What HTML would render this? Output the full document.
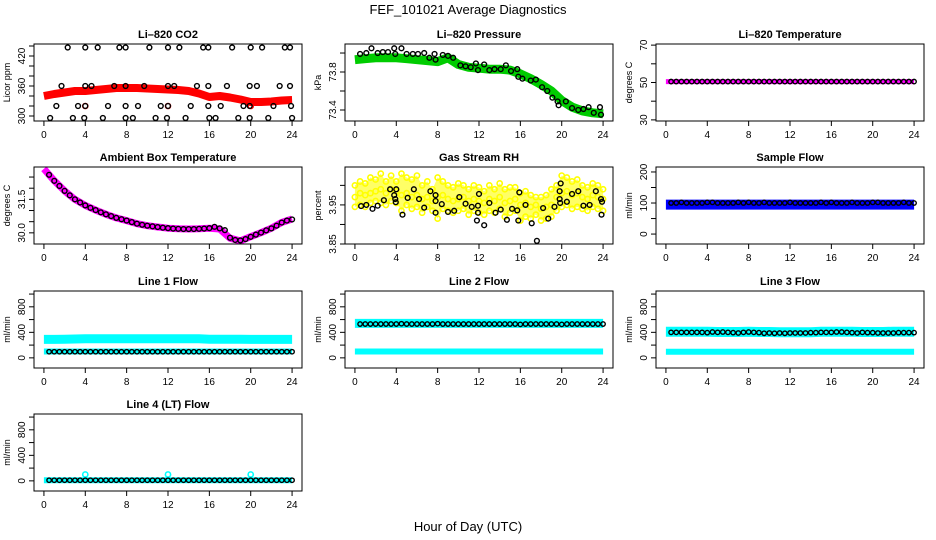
<!DOCTYPE html>
<html><head><meta charset="utf-8">
<style>
html,body{margin:0;padding:0;background:#fff;}
svg{display:block;font-family:"Liberation Sans",sans-serif;}
</style></head>
<body>
<svg id="chart" width="936" height="540" viewBox="0 0 936 540" xmlns="http://www.w3.org/2000/svg">
<text x="468" y="14" text-anchor="middle" font-size="13">FEF_101021  Average Diagnostics</text>
<text x="468" y="531" text-anchor="middle" font-size="13">Hour of Day (UTC)</text>
</svg>
<script>
// ---- data ----
const xTicks = [0,4,8,12,16,20,24];
const hours = [0,1,2,3,4,5,6,7,8,9,10,11,12,13,14,15,16,17,18,19,20,21,22,23,24];
const halfHours = [0.5,1,1.5,2,2.5,3,3.5,4,4.5,5,5.5,6,6.5,7,7.5,8,8.5,9,9.5,10,10.5,11,11.5,12,12.5,13,13.5,14,14.5,15,15.5,16,16.5,17,17.5,18,18.5,19,19.5,20,20.5,21,21.5,22,22.5,23,23.5,24];
const rhHours = [0,0.5,1,1.5,2,2.5,3,3.5,4,4.5,5,5.5,6,6.5,7,7.5,8,8.5,9,9.5,10,10.5,11,11.5,12,12.5,13,13.5,14,14.5,15,15.5,16,16.5,17,17.5,18,18.5,19,19.5,20,20.5,21,21.5,22,22.5,23,23.5,24];

// CO2
const co2Red = [340,344,347,350,350,352,354,356,356,356,355,354,353,352,350,345,338,340,337,333,328,328,329,331,332];
const co2BlackX = [2.3,4.0,5.2,7.3,7.9,10.2,12.0,13.1,15.4,15.9,18.2,20.0,21.1,23.3,23.8,
 1.7,4.0,4.6,6.8,7.9,9.7,12.0,12.6,14.8,15.9,17.7,19.9,20.6,22.8,23.8,
 1.2,3.3,4.0,6.2,7.9,9.1,11.3,12.0,14.2,15.9,17.1,19.3,19.9,22.2,23.9,
 0.6,2.8,3.9,5.7,7.9,8.6,10.8,11.9,13.7,16.0,16.6,18.8,19.9,21.7,24.0];
const co2BlackY = [437,437,437,437,437,437,437,437,437,437,437,437,437,437,437,
 360,360,360,360,360,360,360,360,360,360,360,360,360,360,360,
 320,320,320,320,320,320,320,320,320,320,320,320,320,320,320,
 296,296,296,296,296,296,296,296,296,296,296,296,296,296,296];
const co2RedOutX = [4,12,20];
const co2RedOutY = [320,320,320];

// Pressure
const presGreen = [73.93,73.94,73.95,73.95,73.95,73.94,73.93,73.92,73.91,73.95,73.88,73.85,73.84,73.83,73.83,73.82,73.78,73.73,73.67,73.60,73.50,73.43,73.39,73.37,73.36];
const presBlackX = [0.5,1.1,1.6,2.2,2.7,3.2,3.8,3.9,4.5,5.0,5.6,6.1,6.7,7.2,7.7,7.8,8.5,9.0,9.5,10.2,10.7,11.2,11.7,11.9,12.5,13.0,13.5,14.1,14.6,15.1,15.7,15.8,16.2,17.0,17.5,18.1,18.6,19.1,19.6,19.7,20.4,21.0,21.6,22.1,22.6,23.1,23.7,23.8];
const presBlackY = [73.99,74.00,74.05,74.00,74.01,74.01,74.05,73.99,74.05,73.99,73.99,73.99,74.00,73.95,73.99,73.93,73.98,73.97,73.95,73.87,73.86,73.85,73.89,73.82,73.88,73.82,73.83,73.83,73.87,73.81,73.83,73.75,73.73,73.71,73.72,73.64,73.60,73.53,73.49,73.45,73.49,73.42,73.40,73.41,73.43,73.37,73.43,73.35];

// Li-820 temperature
const tempMagenta = [50.5,50.5,50.5,50.5,50.5,50.5,50.5,50.5,50.5,50.5,50.5,50.5,50.5,50.5,50.5,50.5,50.5,50.5,50.5,50.5,50.5,50.5,50.5,50.5,50.5];
const tempBlack = [50.5,50.5,50.5,50.5,50.5,50.5,50.5,50.5,50.5,50.5,50.5,50.5,50.5,50.5,50.5,50.5,50.5,50.5,50.5,50.5,50.5,50.5,50.5,50.5,50.5,50.5,50.5,50.5,50.5,50.5,50.5,50.5,50.5,50.5,50.5,50.5,50.5,50.5,50.5,50.5,50.5,50.5,50.5,50.5,50.5,50.5,50.5,50.5];

// Ambient box temperature
const ambMagenta = [32.87,32.33,31.88,31.50,31.23,31.02,30.83,30.67,30.55,30.41,30.32,30.26,30.21,30.18,30.17,30.18,30.21,30.17,29.76,29.64,29.83,30.01,30.21,30.47,30.62];
const ambBlack = [32.60,32.33,32.10,31.88,31.68,31.50,31.36,31.23,31.12,31.02,30.92,30.83,30.75,30.67,30.61,30.55,30.48,30.41,30.36,30.32,30.29,30.26,30.23,30.21,30.19,30.18,30.17,30.17,30.17,30.18,30.19,30.21,30.27,30.20,30.12,29.78,29.68,29.66,29.72,29.82,29.92,30.01,30.11,30.20,30.32,30.46,30.55,30.60];

// Gas stream RH
const rhMid = [3.97,3.98,3.975,3.98,3.985,3.99,3.98,3.99,3.985,3.975,3.98,3.97,3.975,3.965,3.97,3.96,3.97,3.975,3.965,3.96,3.965,3.97,3.96,3.965,3.96,3.955,3.965,3.96,3.97,3.955,3.96,3.965,3.95,3.955,3.945,3.95,3.94,3.945,3.95,3.97,3.98,3.985,3.975,3.98,3.97,3.965,3.975,3.97,3.965];
const rhHi = [4.00,4.01,4.005,4.02,4.015,4.03,4.01,4.025,4.01,4.03,4.02,4.015,4.025,4.00,4.01,3.99,4.02,4.01,4.00,3.995,4.005,4.0,3.99,4.00,3.995,3.985,4.00,3.99,4.005,3.99,3.995,3.995,3.98,3.985,3.975,3.97,3.97,3.975,3.99,4.00,4.025,4.02,4.01,4.015,4.00,3.995,4.005,4.00,3.99];
const rhLo = [3.945,3.95,3.945,3.955,3.96,3.955,3.95,3.96,3.955,3.935,3.95,3.94,3.945,3.93,3.945,3.935,3.915,3.94,3.935,3.93,3.935,3.94,3.925,3.935,3.93,3.925,3.935,3.93,3.94,3.92,3.93,3.935,3.91,3.92,3.915,3.925,3.91,3.915,3.92,3.935,3.945,3.95,3.94,3.945,3.94,3.935,3.945,3.94,3.935];
const rhBlackX = [0.6,1.1,1.7,2.2,2.8,3.4,3.8,3.9,4.0,3.95,4.6,5.1,5.7,6.2,6.7,7.3,7.8,7.8,7.8,8.4,9.0,9.6,10.1,10.7,11.3,11.8,11.9,11.9,12.0,12.5,13.0,13.6,14.1,14.7,15.2,15.7,15.8,15.9,16.5,17.1,17.6,18.2,18.7,19.3,19.8,19.8,19.85,19.9,20.5,21.0,21.6,22.1,22.7,23.3,23.8,23.85,23.9];
const rhBlackY = [3.947,3.95,3.94,3.948,3.962,3.99,3.975,3.965,3.99,3.957,3.925,3.968,3.99,3.965,3.943,3.985,3.93,3.975,3.96,3.952,3.932,3.935,3.97,3.953,3.945,3.91,3.93,3.948,3.978,3.898,3.955,3.93,3.938,3.912,3.94,3.936,3.91,3.982,3.95,3.903,3.858,3.942,3.915,3.945,3.985,3.965,3.955,4.005,3.958,3.978,3.985,3.948,3.95,3.985,3.965,3.925,3.958];

// Flows (ml/min)
const sampleBlue = [95,95,95,95,95,95,95,95,95,95,95,95,95,95,95,95,95,95,95,95,95,95,95,95,95];
const sampleBlack = [100,100,102,100,100,100,100,102,102,100,100,100,100,102,100,102,100,100,102,100,100,100,100,102,100,100,100,100,100,102,100,102,100,100,100,102,100,100,100,102,102,100,100,100,100,102,100,100];
const line1CyanHi = [290,290,292,295,298,298,298,298,298,298,298,298,298,298,298,298,292,292,292,292,290,290,290,290,290];
const line1CyanLo = [100,100,100,100,100,100,100,100,100,100,100,100,100,100,100,100,100,100,100,100,100,100,100,100,100];
const line1Black = [96,96,96,96,96,96,96,96,96,96,96,96,96,96,96,96,96,96,96,96,96,96,96,96,96,96,96,96,96,96,96,96,96,96,96,96,96,96,96,96,96,96,96,96,96,96,96,96];
const line2CyanHi = [540,540,540,540,540,540,540,540,540,540,540,540,540,540,540,540,540,540,540,540,540,540,540,540,540];
const line2CyanLo = [100,100,100,100,100,100,100,100,100,100,100,100,100,100,100,100,100,100,100,100,100,100,100,100,100];
const line2Black = [530,530,530,530,530,530,530,530,535,530,530,530,530,530,530,535,530,530,530,530,530,530,530,530,530,530,530,530,530,530,530,525,530,530,530,530,530,530,530,525,530,530,530,530,530,530,530,530];
const line3CyanHi = [410,410,410,410,410,405,405,405,410,405,405,400,400,400,400,410,410,410,410,405,405,405,410,410,410];
const line3CyanLo = [95,95,95,95,95,95,95,95,95,95,95,95,95,95,95,95,95,95,95,95,95,95,95,95,95];
const line3Black = [400,400,400,400,400,400,400,395,405,400,405,400,395,390,400,405,400,395,385,390,385,390,385,390,390,390,390,395,395,400,400,400,405,405,400,395,390,400,395,395,390,390,390,390,395,395,395,395];
const line4Cyan = [10,10,10,10,10,10,10,10,10,10,10,10,10,10,10,10,10,10,10,10,10,10,10,10,10];
const line4Black = [10,10,10,10,10,10,10,10,10,10,10,10,10,10,10,10,10,10,10,10,10,10,10,10,10,10,10,10,10,10,10,10,10,10,10,10,10,10,10,10,10,10,10,10,10,10,10,10];
const line4OutX = [4,12,20];
const line4OutY = [100,100,100];

// ---- drawing ----
const NS = "http://www.w3.org/2000/svg";
const svg = document.getElementById('chart');
const colLeft = [34,345,656], rowTop = [44,167,291,414], PW = 268, PH = 77;
const XLO = -0.96, XHI = 24.96;

function mk(tag, attrs, parent){
  const e = document.createElementNS(NS, tag);
  for (const k in attrs) e.setAttribute(k, attrs[k]);
  parent.appendChild(e);
  return e;
}

function panel(name, col, row, title, ylab, ylo, yhi, ticks, labels){
  const L = colLeft[col], T = rowTop[row];
  const g = mk('g', {}, svg);
  
  
  const sx = v => L + (v - XLO) / (XHI - XLO) * PW;
  const sy = v => T + PH - (v - ylo) / (yhi - ylo) * PH;
  const t = mk('text', {x: L + PW/2, y: T - 6, 'text-anchor':'middle', 'font-size':11, 'font-weight':'bold'}, g);
  t.textContent = title;
  
  
  const clip = mk('clipPath', {id: 'clip-' + name}, g);
  mk('rect', {x: L, y: T, width: PW, height: PH}, clip);
  const plot = mk('g', {'clip-path': 'url(#clip-' + name + ')'}, g);
  
  
  const xa = mk('g', {}, g);
  
  
  xTicks.forEach(v => {
    mk('line', {x1: sx(v), x2: sx(v), y1: T+PH, y2: T+PH+5, stroke:'#000', 'stroke-width':1}, xa);
    const tl = mk('text', {x: sx(v), y: T+PH+17, 'text-anchor':'middle', 'font-size':10}, xa);
    tl.textContent = v;
    
    
  });
  const ya = mk('g', {}, g);
  
  
  ticks.forEach(v => {
    mk('line', {x1: L-5, x2: L, y1: sy(v), y2: sy(v), stroke:'#000', 'stroke-width':1}, ya);
  });
  labels.forEach(v => {
    const yl = mk('text', {x: 0, y: 0, 'text-anchor':'middle', 'font-size':10,
      transform: 'translate(' + (L-9) + ',' + sy(v) + ') rotate(-90)'}, ya);
    yl.textContent = v;
    
    
  });
  const yt = mk('text', {x:0, y:0, 'text-anchor':'middle', 'font-size':9,
    transform: 'translate(' + (L-24) + ',' + (T+PH/2) + ') rotate(-90)'}, ya);
  yt.textContent = ylab;
  
  
  const box = mk('rect', {x: L, y: T, width: PW, height: PH, fill:'none', stroke:'#000', 'stroke-width':1}, g);
  
  
  return {g: plot, sx, sy};
}

function band(p, xs, ys, color, w, nm){
  const pts = xs.map((x,i) => p.sx(x).toFixed(1) + ',' + p.sy(ys[i]).toFixed(1)).join(' ');
  const pl = mk('polyline', {points: pts, fill:'none', stroke: color, 'stroke-width': w, 'stroke-linecap':'butt', 'stroke-linejoin':'round'}, p.g);
  
  
}
function pts(p, xs, ys, color, r, nm, sw){
  const gg = mk('g', {}, p.g);
  
  
  xs.forEach((x,i) => {
    const c = mk('circle', {cx: p.sx(x), cy: p.sy(ys[i]), r: r, fill:'none', stroke: color, 'stroke-width': sw || 1.4}, gg);
    
    
  });
}

let p = panel('co2', 0, 0, 'Li\u2013820 CO2', 'Licor ppm', 290, 444, [300,320,340,360,380,400,420,440], [300,360,420]);
band(p, hours, co2Red, '#ff0000', 8, 'co2-red-series');
pts(p, co2RedOutX, co2RedOutY, '#ff0000', 2.6, 'co2-red-outliers');
pts(p, co2BlackX, co2BlackY, '#000', 2.4, 'co2-black-series');

p = panel('pressure', 1, 0, 'Li\u2013820 Pressure', 'kPa', 73.284, 74.095, [73.4,73.6,73.8,74.0], ['73.4','73.8']);
band(p, hours, presGreen, '#00cc00', 9, 'pressure-green-series');
pts(p, presBlackX, presBlackY, '#000', 2.4, 'pressure-black-series');

p = panel('li820-temp', 2, 0, 'Li\u2013820 Temperature', 'degrees C', 29.4, 70.6, [30,40,50,60,70], [30,50,70]);
band(p, hours, tempMagenta, '#ff00ff', 5, 'temp-magenta-series');
pts(p, halfHours, tempBlack, '#000', 2.2, 'temp-black-series');

p = panel('ambient', 0, 1, 'Ambient Box Temperature', 'degrees C', 29.5, 32.95, [30.0,30.5,31.0,31.5,32.0,32.5], ['30.0','31.5']);
band(p, hours, ambMagenta, '#ff00ff', 7, 'ambient-magenta-series');
pts(p, halfHours, ambBlack, '#000', 2.4, 'ambient-black-series');

p = panel('rh', 1, 1, 'Gas Stream RH', 'percent', 3.85, 4.047, [3.85,3.90,3.95,4.00], ['3.85','3.95']);
{
  const poly = rhHours.map((x,i) => p.sx(x)+','+p.sy(rhHi[i])).concat(rhHours.slice().reverse().map((x,j) => { const i = rhHours.length-1-j; return p.sx(x)+','+p.sy(rhLo[i]); })).join(' ');
  const pg = mk('polygon', {points: poly, fill:'#ffff66', stroke:'none'}, p.g);
  
  
}
pts(p, rhHours, rhHi, '#ffff00', 2.6, 'rh-yellow-high', 1.6);
pts(p, rhHours, rhMid, '#ffff00', 2.6, 'rh-yellow-mid', 1.6);
pts(p, rhHours, rhLo, '#ffff00', 2.6, 'rh-yellow-low', 1.6);
pts(p, rhBlackX, rhBlackY, '#000', 2.4, 'rh-black-series');

p = panel('sample-flow', 2, 1, 'Sample Flow', 'ml/min', -32, 216, [0,50,100,150,200], [0,100,200]);
band(p, hours, sampleBlue, '#0000ff', 10, 'sample-blue-series');
pts(p, halfHours, sampleBlack, '#000', 2.2, 'sample-black-series');

const flowTicks = [0,200,400,600,800,1000], flowLabels = [0,400,800];
p = panel('line1', 0, 2, 'Line 1 Flow', 'ml/min', -159, 1048, flowTicks, flowLabels);
band(p, hours, line1CyanHi, '#00ffff', 9, 'line1-cyan-upper');
band(p, hours, line1CyanLo, '#00ffff', 6, 'line1-cyan-lower');
pts(p, halfHours, line1Black, '#000', 2.2, 'line1-black-series');

p = panel('line2', 1, 2, 'Line 2 Flow', 'ml/min', -159, 1048, flowTicks, flowLabels);
band(p, hours, line2CyanHi, '#00ffff', 9, 'line2-cyan-upper');
band(p, hours, line2CyanLo, '#00ffff', 6, 'line2-cyan-lower');
pts(p, halfHours, line2Black, '#000', 2.2, 'line2-black-series');

p = panel('line3', 2, 2, 'Line 3 Flow', 'ml/min', -159, 1048, flowTicks, flowLabels);
band(p, hours, line3CyanHi, '#00ffff', 10, 'line3-cyan-upper');
band(p, hours, line3CyanLo, '#00ffff', 6, 'line3-cyan-lower');
pts(p, halfHours, line3Black, '#000', 2.2, 'line3-black-series');

p = panel('line4', 0, 3, 'Line 4 (LT) Flow', 'ml/min', -159, 1048, flowTicks, flowLabels);
band(p, hours, line4Cyan, '#00ffff', 6, 'line4-cyan-series');
pts(p, line4OutX, line4OutY, '#00ffff', 2.6, 'line4-cyan-outliers', 1.6);
pts(p, halfHours, line4Black, '#000', 2.2, 'line4-black-series');
</script>
</body></html>
